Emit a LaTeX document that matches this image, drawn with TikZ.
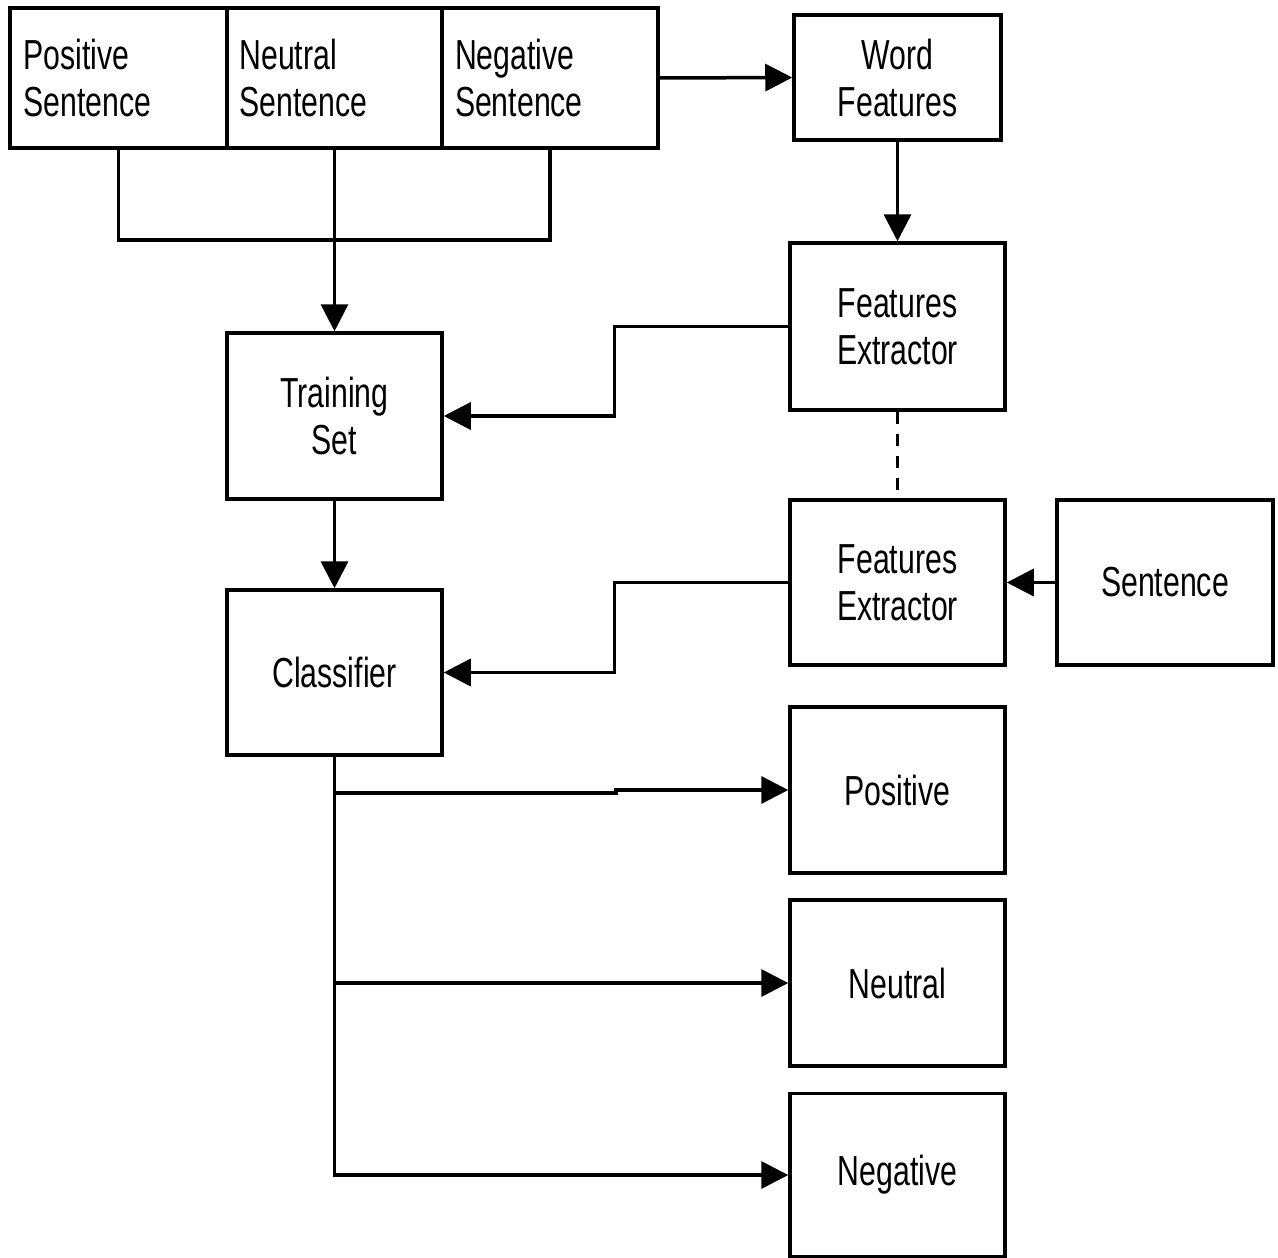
\documentclass[tikz,border=0pt]{standalone}
\usepackage{fontspec}
\setmainfont{Liberation Sans}[FakeStretch=0.72]
\usetikzlibrary{arrows.meta}
\begin{document}
\begin{tikzpicture}[x=1pt,y=-1pt,
  box/.style={draw,line width=3.5pt,inner sep=0pt,align=center,font=\fontsize{42}{47}\selectfont},
  lbox/.style={box,text width=190pt,align=left},
  conn/.style={line width=3.5pt},
  arr/.style={conn,-{Triangle[length=27pt,width=27pt]}}]
\useasboundingbox (0,0) rectangle (1278,1258);
% top row
\node[lbox,minimum width=217pt,minimum height=140pt] (pos) at (118.5,78) {Positive\\Sentence};
\node[lbox,minimum width=215pt,minimum height=140pt] (neu) at (334.5,78) {Neutral\\Sentence};
\node[lbox,minimum width=216pt,minimum height=140pt] (negS) at (550,78) {Negative\\Sentence};
\node[box,minimum width=207pt,minimum height=125pt] (wf) at (897.5,77.5) {Word\\Features};
% middle
\node[box,minimum width=215pt,minimum height=166pt] (ts) at (334.5,416) {Training\\Set};
\node[box,minimum width=215pt,minimum height=165pt] (cl) at (334.5,672.5) {Classifier};
\node[box,minimum width=215pt,minimum height=167pt] (fe1) at (897.5,326.5) {Features\\Extractor};
\node[box,minimum width=215pt,minimum height=165pt] (fe2) at (897.5,582.5) {Features\\Extractor};
\node[box,minimum width=216pt,minimum height=165pt] (sen) at (1165,582.5) {Sentence};
% outputs
\node[box,minimum width=215pt,minimum height=166pt] (po) at (897.5,790) {Positive};
\node[box,minimum width=215pt,minimum height=166pt] (ne) at (897.5,983) {Neutral};
\node[box,minimum width=215pt,minimum height=163pt] (ng) at (897.5,1175) {Negative};
% connectors
\coordinate (j) at (334.5,240);
\draw[conn] (pos.south) |- (j) -| (negS.south);
\draw[conn] (neu.south) -- (j);
\draw[arr] (j) -- (ts.north);
\draw[arr] (negS.east) -- (wf.west);
\draw[arr] (wf.south) -- (fe1.north);
\draw[arr] (fe1.west) -- ++(-174,0) |- (ts.east);
\draw[conn,dash pattern=on 12pt off 10pt] (fe1.south) -- (fe2.north);
\draw[arr] (sen.west) -- (fe2.east);
\draw[arr] (fe2.west) -- ++(-174,0) |- (cl.east);
\draw[arr] (ts.south) -- (cl.north);
\coordinate (b1) at (334.5,793);
\coordinate (s1) at (616,793);
\draw[conn] (cl.south) -- (334.5,1175);
\draw[arr] (b1) -- (s1) -- (616,790) -- (po.west);
\draw[arr] (cl.south) |- (ne.west);
\draw[arr] (cl.south) |- (ng.west);
\end{tikzpicture}
\end{document}
